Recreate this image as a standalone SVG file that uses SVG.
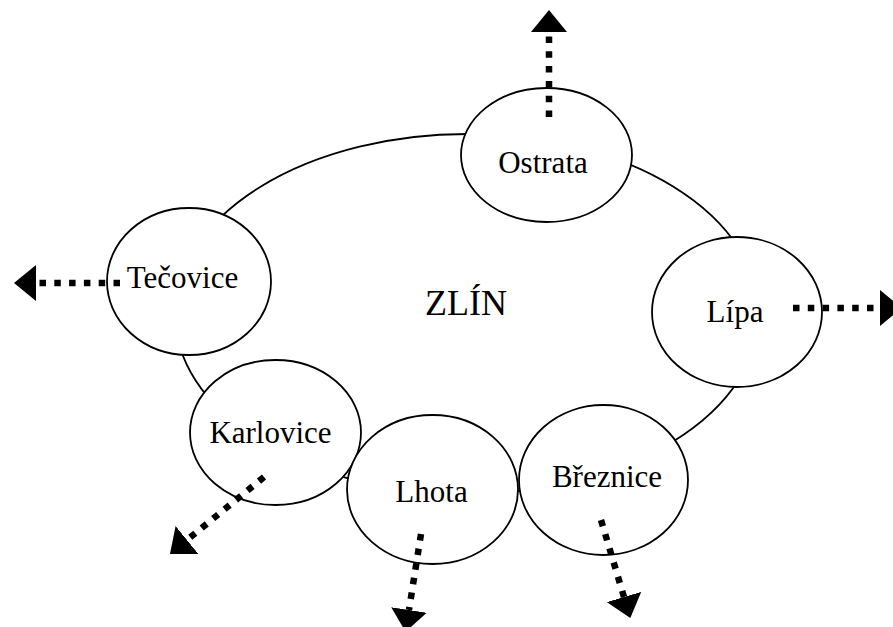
<svg xmlns="http://www.w3.org/2000/svg" width="893" height="627" viewBox="0 0 893 627">
<style>
.shape{fill:#fff;stroke:#000;stroke-width:1.8}
.lbl{font-family:"Liberation Serif","Times New Roman",serif;font-size:31px;fill:#000;text-anchor:middle}
.big{font-size:36px}
.arr{fill:none;stroke:#000;stroke-width:6.5;stroke-dasharray:6.5 8.3;stroke-linecap:butt;marker-end:url(#head)}
</style>
<defs>
<marker id="head" markerUnits="userSpaceOnUse" viewBox="0 0 22 36" refX="0" refY="18" markerWidth="22" markerHeight="36" orient="auto">
<path d="M0,0 L22,18 L0,36 Z" fill="#000"/>
</marker>
</defs>
<rect width="893" height="627" fill="#fff"/>
<g id="zlin">
<ellipse class="shape" cx="467" cy="314" rx="292" ry="180"/>
<text class="lbl big" x="466" y="315">ZLÍN</text>
</g>
<g id="ostrata">
<ellipse class="shape" cx="546.5" cy="155" rx="85.5" ry="67"/>
<text class="lbl" x="543" y="173">Ostrata</text>
</g>
<g id="tecovice">
<ellipse class="shape" cx="189" cy="281.5" rx="82" ry="73.5"/>
<text class="lbl" x="182.5" y="288">Tečovice</text>
</g>
<g id="lipa">
<ellipse class="shape" cx="737" cy="312" rx="85" ry="75"/>
<text class="lbl" x="735" y="322">Lípa</text>
</g>
<g id="karlovice">
<ellipse class="shape" cx="275.5" cy="432.5" rx="85.5" ry="72.5"/>
<text class="lbl" x="270.5" y="443">Karlovice</text>
</g>
<g id="lhota">
<ellipse class="shape" cx="432.5" cy="489.5" rx="85.5" ry="74.5"/>
<text class="lbl" x="431.5" y="502">Lhota</text>
</g>
<g id="breznice">
<ellipse class="shape" cx="603.5" cy="480" rx="84.5" ry="75"/>
<text class="lbl" x="607" y="487">Březnice</text>
</g>
<g id="connectors">
<path class="arr" d="M549,117 L549,32"/>
<path class="arr" d="M120,283 L36,283"/>
<path class="arr" d="M793,308 L880,308"/>
<path class="arr" d="M264,477 L187,540"/>
<path class="arr" d="M421,534 L409,610"/>
<path class="arr" d="M601,520 L624,597"/>
</g>
</svg>
